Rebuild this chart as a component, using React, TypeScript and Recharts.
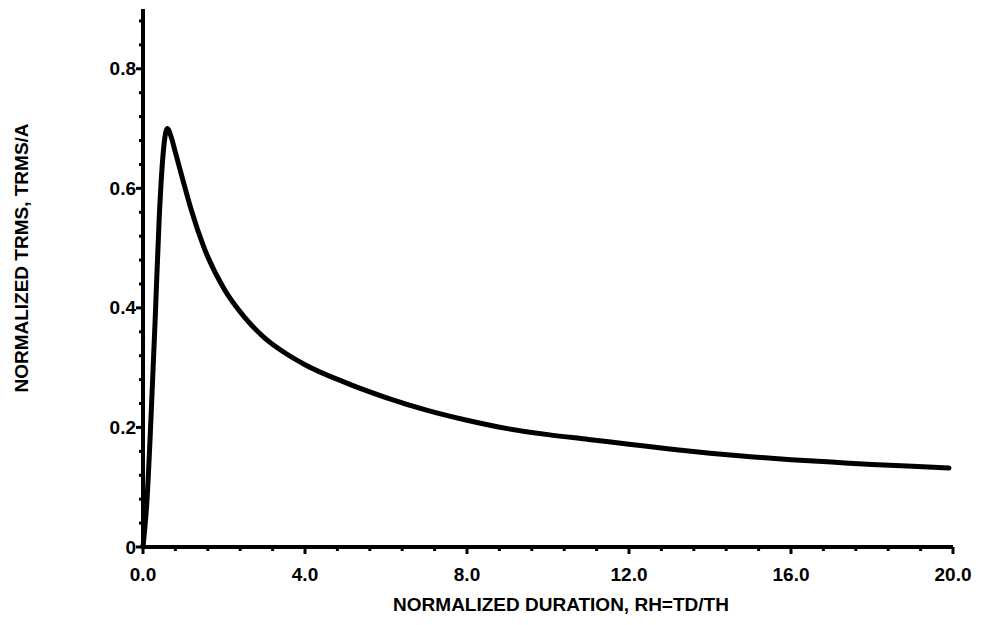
import React from "react"
import { LineChart, Line, XAxis, YAxis } from "recharts"

// Normalized duration RH = TD/TH
const durations = [
  0, 0.1, 0.2, 0.3, 0.4, 0.5, 0.6, 0.7, 0.8, 0.9, 1.0, 1.2, 1.5, 2.0, 2.5, 3.0, 3.5, 4.0,
  5.0, 6.0, 7.0, 8.0, 9.0, 10.0, 11.0, 12.0, 13.0, 14.0, 15.0, 16.0, 17.0, 18.0, 19.0, 19.9,
]
// Normalized TRMS / A at each duration
const trms = [
  0, 0.08, 0.22, 0.38, 0.55, 0.66, 0.7, 0.685, 0.66, 0.635, 0.61, 0.562, 0.502, 0.432, 0.385, 0.35, 0.325, 0.305,
  0.275, 0.25, 0.229, 0.212, 0.198, 0.188, 0.18, 0.172, 0.164, 0.157, 0.151, 0.146, 0.142, 0.138, 0.135, 0.132,
]

const xMajorTicks = [0, 4, 8, 12, 16, 20]
const yMajorTicks = [0, 0.2, 0.4, 0.6, 0.8]

// five subdivisions between labelled ticks
const xTicks = Array.from({ length: 26 }, (_, i) => +(i * 0.8).toFixed(2))
const yTicks = Array.from({ length: 23 }, (_, i) => +(i * 0.04).toFixed(2))

const data = durations.map((d, i) => ({ rh: d, trms: trms[i] }))

const FONT = "'Liberation Sans', Arial, sans-serif"

const isMajor = (v: number, majors: number[]) => majors.some((m) => Math.abs(m - v) < 1e-6)

const XTick = ({ x, y, payload }: any) => {
  const major = isMajor(payload.value, xMajorTicks)
  return (
    <g>
      <line x1={x} x2={x} y1={y} y2={y + (major ? 7 : 4)} stroke="#000" strokeWidth={3} />
      {major && (
        <text
          x={x}
          y={y + 27}
          textAnchor="middle"
          dominantBaseline="central"
          fontFamily={FONT}
          fontWeight={700}
          fontSize={19}
          fill="#000"
        >
          {payload.value.toFixed(1)}
        </text>
      )}
    </g>
  )
}

const YTick = ({ x, y, payload }: any) => {
  const major = isMajor(payload.value, yMajorTicks)
  return (
    <g>
      <line x1={x} x2={x - (major ? 7 : 4)} y1={y} y2={y} stroke="#000" strokeWidth={3} />
      {major && (
        <text
          x={x - 7}
          y={y}
          textAnchor="end"
          dominantBaseline="central"
          fontFamily={FONT}
          fontWeight={700}
          fontSize={19}
          fill="#000"
        >
          {payload.value === 0 ? "0" : payload.value.toFixed(1)}
        </text>
      )}
    </g>
  )
}

export default function App() {
  return (
    <div style={{ position: "absolute", left: 0, top: 0, width: 981, height: 625, background: "#fff" }}>
      <LineChart width={981} height={625} data={data} margin={{ top: 9, right: 28, left: 0, bottom: 0 }}>
        <XAxis
          dataKey="rh"
          type="number"
          domain={[0, 20]}
          ticks={xTicks}
          interval={0}
          height={78}
          tickSize={0}
          tickMargin={0}
          tickLine={false}
          tick={<XTick />}
          axisLine={{ stroke: "#000", strokeWidth: 4 }}
          label={{
            content: ({ viewBox }: any) => (
              <text
                x={viewBox.x + viewBox.width / 2 + 13}
                y={viewBox.y + 57}
                textAnchor="middle"
                dominantBaseline="central"
                fontFamily={FONT}
                fontWeight={700}
                fontSize={19}
                fill="#000"
              >
                NORMALIZED DURATION, RH=TD/TH
              </text>
            ),
          }}
        />
        <YAxis
          type="number"
          domain={[0, 0.9]}
          ticks={yTicks}
          interval={0}
          width={143}
          tickSize={0}
          tickMargin={0}
          tickLine={false}
          tick={<YTick />}
          axisLine={{ stroke: "#000", strokeWidth: 4 }}
          label={{
            content: ({ viewBox }: any) => {
              const cx = 21
              const cy = viewBox.y + viewBox.height / 2 - 20
              return (
                <text
                  x={cx}
                  y={cy}
                  transform={`rotate(-90 ${cx} ${cy})`}
                  textAnchor="middle"
                  dominantBaseline="central"
                  fontFamily={FONT}
                  fontWeight={700}
                  fontSize={19}
                  fill="#000"
                >
                  NORMALIZED TRMS, TRMS/A
                </text>
              )
            },
          }}
        />
        <Line
          type="monotone"
          dataKey="trms"
          stroke="#000"
          strokeWidth={5}
          strokeLinejoin="round"
          strokeLinecap="round"
          dot={false}
          activeDot={false}
          isAnimationActive={false}
        />
      </LineChart>
    </div>
  )
}
